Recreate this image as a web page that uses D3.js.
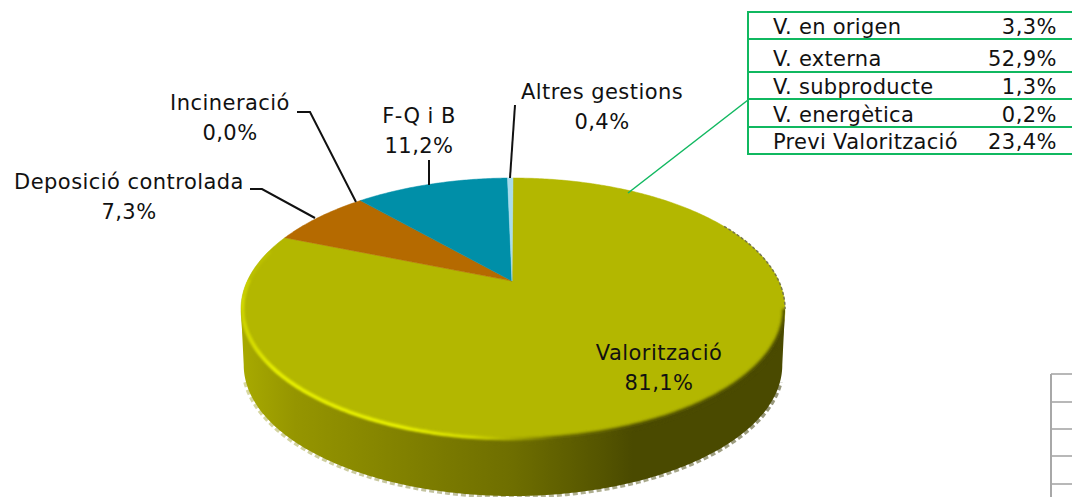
<!DOCTYPE html>
<html>
<head>
<meta charset="utf-8">
<script src="https://cdn.jsdelivr.net/npm/d3@7"></script>
<style>
html, body { margin: 0; padding: 0; background: #fff; overflow: hidden; }
text { font-family: "DejaVu Sans", Verdana, sans-serif; font-size: 21px; letter-spacing: 0.45px; fill: #111; }
text.name { letter-spacing: 0.3px; }
</style>
</head>
<body>
<div id="chart"></div>
<script>
var categories = ["Valorització", "Deposició controlada", "Incineració", "F-Q i B", "Altres gestions"];
var shares = [81.1, 7.3, 0.0, 11.2, 0.4];
var sliceColors = ["#b3b700", "#b56a00", "#b56a00", "#008fa8", "#a9dcec"];

var detailNames = ["V. en origen", "V. externa", "V. subproducte", "V. energètica", "Previ Valorització"];
var detailShares = [3.3, 52.9, 1.3, 0.2, 23.4];

var width = 1072, height = 497;
var fmt = v => v.toFixed(1).replace(".", ",") + "%";

// the pie is a circle seen in perspective, so the middle sits above the centre of the ellipse
var cx = 513, apexY = 281, topY = 178, frontY = 440, halfW = 272, depth = 56;
var persp = (topY + frontY - 2 * apexY) / (frontY - topY);
var tilt = topY * (1 + persp) - apexY;
var spread = halfW * Math.sqrt(1 - persp * persp);

function project(t, dy, shrink) {
    var u = Math.sin(t), v = Math.cos(t), w = 1 + persp * v;
    return [cx + (shrink || 1) * spread * u / w, (tilt * v + apexY) / w + (dy || 0)];
}
var line = d3.line();
function rim(a, b, dy, shrink) {
    var n = Math.max(2, Math.ceil(Math.abs(b - a) * 90));
    return d3.range(n + 1).map(i => project(a + (b - a) * i / n, dy, shrink));
}
// angles where the ellipse is widest, the wall hangs between them
var sideR = Math.acos(-persp), sideL = 2 * Math.PI - sideR;

var svg = d3.select("#chart").append("svg")
    .attr("width", width)
    .attr("height", height);

var defs = svg.append("defs");
function hGradient(id, stops) {
    var g = defs.append("linearGradient")
        .attr("id", id)
        .attr("gradientUnits", "userSpaceOnUse")
        .attr("x1", cx - halfW).attr("x2", cx + halfW).attr("y1", 0).attr("y2", 0);
    g.selectAll("stop")
        .data(stops)
        .enter().append("stop")
        .attr("offset", d => d[0])
        .attr("stop-color", d => d[1])
        .attr("stop-opacity", d => d.length > 2 ? d[2] : 1);
}
hGradient("wall-grad", [[0, "#a8aa00"], [0.1, "#959500"], [0.35, "#7c7c00"], [0.5, "#6e6e00"], [0.66, "#555500"], [0.72, "#4a4a00"], [1, "#4a4a00"]]);
hGradient("fringe-grad", [[0, "#d8d8a0"], [0.4, "#c0c0a0"], [1, "#96967a"]]);
hGradient("shine-grad", [[0, "#e6ee00", 0.6], [0.06, "#e6ee00", 1], [0.3, "#e6ee00", 1], [0.42, "#e6ee00", 0.8], [0.58, "#e6ee00", 0]]);

defs.append("filter").attr("id", "soft")
    .attr("x", "-10%").attr("y", "-10%").attr("width", "120%").attr("height", "120%")
    .append("feGaussianBlur").attr("stdDeviation", 1.5);
defs.append("filter").attr("id", "soft-thin")
    .attr("x", "-10%").attr("y", "-10%").attr("width", "120%").attr("height", "120%")
    .append("feGaussianBlur").attr("stdDeviation", 1);

// side wall, with the stepped light fringe under it
var wallTop = rim(sideR, sideL);
var wallBottom = rim(sideL, sideR, depth, 0.99);
var wallPath = line(wallTop.concat(wallBottom)) + "Z";
var facePath = line(rim(0, 2 * Math.PI)) + "Z";
var clip = defs.append("clipPath").attr("id", "body-clip");
clip.append("path").attr("d", facePath);
clip.append("path").attr("d", wallPath);

svg.append("path")
    .attr("d", line(rim(sideL - 0.12, sideR + 0.12, depth + 1, 0.993)))
    .attr("fill", "none")
    .attr("stroke", "url(#fringe-grad)")
    .attr("stroke-width", 3.5)
    .attr("stroke-dasharray", "5 3");
svg.append("path")
    .attr("d", wallPath)
    .attr("fill", "url(#wall-grad)");

// top face
var pie = d3.pie().sort(null).value(d => d);
var arcs = pie(shares);
svg.selectAll("path.slice")
    .data(arcs)
    .enter().append("path")
    .attr("class", "slice")
    .attr("d", d => line([[cx - 1, apexY]].concat(rim(d.startAngle, d.endAngle))) + "Z")
    .attr("fill", (d, i) => sliceColors[i])
    .attr("stroke", (d, i) => d.value > 0 ? sliceColors[i] : "none")
    .attr("stroke-width", 0.5);

// bevel: soft edge along the front, bright band on the left, dark edge on the upper right
var bevel = svg.append("g").attr("clip-path", "url(#body-clip)");
bevel.append("path")
    .attr("d", line(rim(sideR, sideL)))
    .attr("fill", "none").attr("stroke", "url(#wall-grad)").attr("stroke-width", 5)
    .attr("filter", "url(#soft)");
bevel.append("path")
    .attr("d", line(rim(Math.PI * 0.95, Math.PI * 1.5, -1.5, 0.995)))
    .attr("fill", "none").attr("stroke", "url(#shine-grad)").attr("stroke-width", 4)
    .attr("filter", "url(#soft-thin)");
bevel.append("path")
    .attr("d", line(rim(Math.PI * 1.46, Math.PI * 1.58, 0, 0.995)))
    .attr("fill", "none").attr("stroke", "#c0c600").attr("stroke-width", 2.5)
    .attr("filter", "url(#soft)");
svg.append("path")
    .attr("d", line(rim(Math.PI * 0.34, sideR)))
    .attr("fill", "none").attr("stroke", "#77774a").attr("stroke-width", 1.5)
    .attr("stroke-dasharray", "3 2");

// leader lines
var leaders = [
    [[250, 189], [262, 189], [315, 218]],
    [[297, 112], [310, 112], [356, 202]],
    [[429, 160], [429, 185]],
    [[515, 105], [510, 178]]
];
svg.selectAll("path.leader")
    .data(leaders)
    .enter().append("path")
    .attr("class", "leader")
    .attr("d", line)
    .attr("fill", "none")
    .attr("stroke", "#111")
    .attr("stroke-width", 2);

// pie labels, centred on their two lines
var labelSpots = [[659, 353], [129, 182], [230, 103], [419, 116], [602, 92]];
var labels = svg.selectAll("g.label")
    .data(categories)
    .enter().append("g")
    .attr("class", "label")
    .attr("transform", (d, i) => `translate(${labelSpots[i]})`);
labels.append("text")
    .attr("text-anchor", "middle")
    .attr("dy", "0.35em")
    .text(d => d);
labels.append("text")
    .attr("text-anchor", "middle")
    .attr("y", 30)
    .attr("dy", "0.35em")
    .text((d, i) => fmt(shares[i]));

// table breaking down Valorització
var green = "#10b860";
var tableLeft = 748, tableRight = 1072;
var rowEdges = [12, 39, 72, 99, 127, 154];
var rowMid = [27, 59, 87, 115, 142];
svg.append("path")
    .attr("d", line([[628, 193], [tableLeft, 100]]))
    .attr("fill", "none").attr("stroke", green).attr("stroke-width", 1.5);
svg.selectAll("line.row")
    .data(rowEdges)
    .enter().append("line")
    .attr("class", "row")
    .attr("x1", tableLeft).attr("x2", tableRight)
    .attr("y1", d => d).attr("y2", d => d)
    .attr("stroke", green).attr("stroke-width", 2);
svg.append("line")
    .attr("x1", tableLeft).attr("x2", tableLeft)
    .attr("y1", rowEdges[0] - 1).attr("y2", rowEdges[5] + 1)
    .attr("stroke", green).attr("stroke-width", 2);
svg.selectAll("text.name")
    .data(detailNames)
    .enter().append("text")
    .attr("class", "name")
    .attr("x", 773)
    .attr("y", (d, i) => rowMid[i])
    .attr("dy", "0.35em")
    .text(d => d);
svg.selectAll("text.share")
    .data(detailShares)
    .enter().append("text")
    .attr("class", "share")
    .attr("x", 1057)
    .attr("y", (d, i) => rowMid[i])
    .attr("dy", "0.35em")
    .attr("text-anchor", "end")
    .text(fmt);

// corner of another table, cut off by the picture
var gridRows = [374, 402, 429, 456, 484];
svg.selectAll("line.grid")
    .data(gridRows)
    .enter().append("line")
    .attr("class", "grid")
    .attr("x1", 1051).attr("x2", 1072)
    .attr("y1", d => d).attr("y2", d => d)
    .attr("stroke", "#a0a0a0").attr("stroke-width", 1.5);
svg.append("line")
    .attr("x1", 1051).attr("x2", 1051)
    .attr("y1", gridRows[0]).attr("y2", height)
    .attr("stroke", "#a8a8a8").attr("stroke-width", 2);
</script>
</body>
</html>
